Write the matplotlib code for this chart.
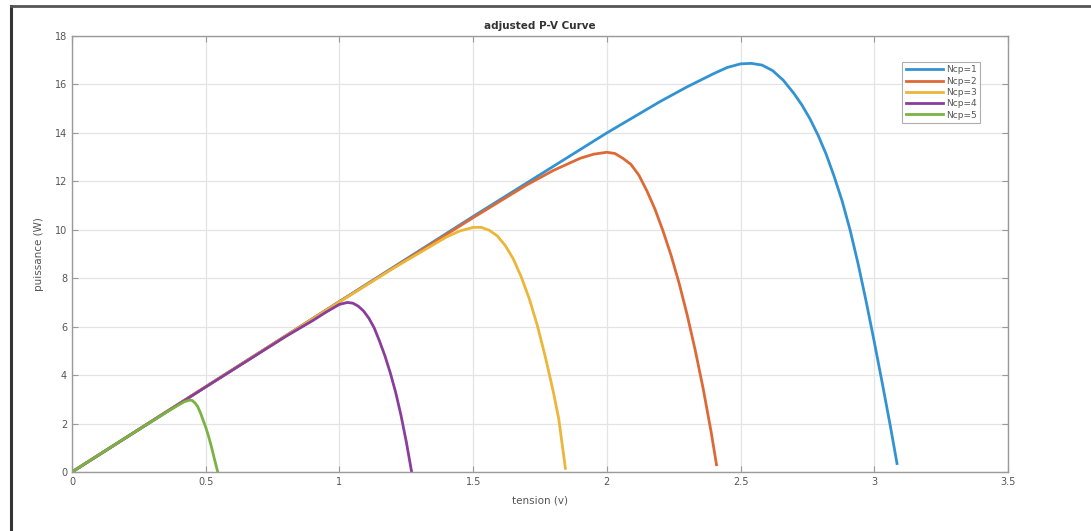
import matplotlib
matplotlib.use("Agg")
import matplotlib.pyplot as plt
from matplotlib.lines import Line2D

# values (tension V, puissance W)
v_ncp1 = [0, 0.5, 1.0, 1.5, 2.0, 2.2, 2.3, 2.4, 2.45, 2.5, 2.54, 2.58, 2.62, 2.66,
          2.7, 2.73, 2.76, 2.79, 2.82, 2.85, 2.88, 2.91, 2.94, 2.97, 3.0, 3.03, 3.06, 3.085]
p_ncp1 = [0, 3.52, 7.04, 10.55, 14.0, 15.3, 15.9, 16.45, 16.7, 16.85, 16.87, 16.8,
          16.57, 16.17, 15.62, 15.14, 14.57, 13.9, 13.12, 12.2, 11.18, 9.97, 8.57, 7.02,
          5.37, 3.66, 1.9, 0.35]

v_ncp2 = [0, 0.5, 1.0, 1.5, 1.7, 1.8, 1.9, 1.95, 2.0, 2.03, 2.06, 2.09, 2.12, 2.15,
          2.18, 2.21, 2.24, 2.27, 2.3, 2.33, 2.36, 2.39, 2.41]
p_ncp2 = [0, 3.52, 7.03, 10.5, 11.85, 12.45, 12.95, 13.12, 13.2, 13.15, 12.95, 12.7,
          12.25, 11.6, 10.85, 9.95, 8.95, 7.8, 6.5, 5.05, 3.45, 1.65, 0.3]

v_ncp3 = [0, 0.5, 1.0, 1.2, 1.3, 1.4, 1.45, 1.5, 1.53, 1.56, 1.59, 1.62, 1.65, 1.68,
          1.71, 1.74, 1.77, 1.8, 1.82, 1.845]
p_ncp3 = [0, 3.52, 7.02, 8.4, 9.05, 9.7, 9.95, 10.1, 10.1, 9.98, 9.75, 9.35, 8.8,
          8.05, 7.15, 6.05, 4.75, 3.3, 2.2, 0.15]

v_ncp4 = [0, 0.5, 0.8, 0.9, 0.95, 1.0, 1.03, 1.05, 1.07, 1.09, 1.11, 1.13, 1.15,
          1.17, 1.19, 1.21, 1.23, 1.25, 1.27]
p_ncp4 = [0, 3.51, 5.6, 6.25, 6.6, 6.92, 7.0, 6.97, 6.85, 6.65, 6.35, 5.95, 5.4,
          4.8, 4.1, 3.3, 2.35, 1.25, 0.0]

v_ncp5 = [0, 0.2, 0.3, 0.38, 0.42, 0.44, 0.45, 0.46, 0.47, 0.48, 0.49, 0.5, 0.51,
          0.52, 0.53, 0.545]
p_ncp5 = [0, 1.41, 2.1, 2.65, 2.9, 2.97, 2.95, 2.85, 2.7, 2.45, 2.15, 1.85, 1.5,
          1.1, 0.65, 0.0]

labels = ["Ncp=1", "Ncp=2", "Ncp=3", "Ncp=4", "Ncp=5"]
colors = ["#3393d2", "#dd6a36", "#ecb63a", "#8a3d9a", "#7ab344"]

x_ticks = [0, 0.5, 1, 1.5, 2, 2.5, 3, 3.5]
x_tick_labels = ["0", "0.5", "1", "1.5", "2", "2.5", "3", "3.5"]
y_ticks = [0, 2, 4, 6, 8, 10, 12, 14, 16, 18]

fig = plt.figure(figsize=(10.91, 5.31), dpi=100)
ax = fig.add_axes([72 / 1091, 1 - 472 / 531, 936 / 1091, 436 / 531])

series = [(v_ncp1, p_ncp1), (v_ncp2, p_ncp2), (v_ncp3, p_ncp3),
          (v_ncp4, p_ncp4), (v_ncp5, p_ncp5)]
for (v, p), lab, col in zip(series, labels, colors):
    ax.plot(v, p, color=col, linewidth=2.0, label=lab, solid_joinstyle="round")

ax.set_xlim(0, 3.5)
ax.set_ylim(0, 18)
ax.set_xticks(x_ticks)
ax.set_xticklabels(x_tick_labels)
ax.set_yticks(y_ticks)
ax.grid(True, color="#e4e4e4", linewidth=0.9)
ax.set_axisbelow(True)
for s in ax.spines.values():
    s.set_color("#9a9a9a")
    s.set_linewidth(1.0)
ax.tick_params(direction="in", length=4, width=0.8, colors="#9a9a9a",
               labelcolor="#555555", labelsize=7, top=True, right=True)

ax.set_title("adjusted P-V Curve", fontsize=7.5, fontweight="bold", color="#333333", pad=5)
ax.set_xlabel("tension (v)", fontsize=7.5, color="#555555", labelpad=6)
ax.set_ylabel("puissance (W)", fontsize=7.5, color="#555555", labelpad=8)

leg = ax.legend(loc="upper right", bbox_to_anchor=(0.975, 0.95), fontsize=6.5,
                frameon=True, fancybox=False, edgecolor="#9a9a9a", handlelength=4.2,
                handletextpad=0.3, labelspacing=0.25, borderpad=0.35, labelcolor="#555555")
leg.get_frame().set_linewidth(0.8)

# outer frame of the screenshot
fig.add_artist(Line2D([11 / 1091, 11 / 1091], [0, 1 - 6 / 531], color="#333333",
                      linewidth=2.2, transform=fig.transFigure))
fig.add_artist(Line2D([11 / 1091, 1], [1 - 6 / 531, 1 - 6 / 531], color="#555555",
                      linewidth=2.0, transform=fig.transFigure))

fig.savefig("out.png", dpi=100)
plt.close(fig)
